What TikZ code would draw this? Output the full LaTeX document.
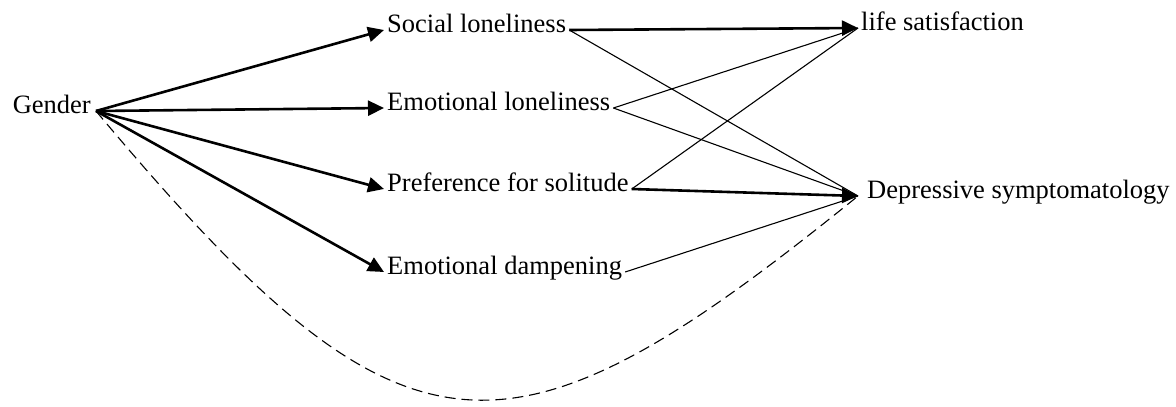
\documentclass[tikz,border=0pt]{standalone}
\usepackage{fontspec}
\setmainfont{Liberation Serif}
\usetikzlibrary{arrows.meta}
\begin{document}
\begin{tikzpicture}[x=1pt,y=-1pt,
  lbl/.style={inner sep=3pt, font=\fontsize{26.5}{30}\selectfont},
  strong/.style={line width=2.6pt, -{Triangle[length=16pt,width=15pt]}},
  weak/.style={line width=1.1pt},
  dashcurve/.style={line width=1.1pt, dash pattern=on 11pt off 6pt}]
\useasboundingbox (0,0) rectangle (1176,407);
\node[lbl, anchor=mid east, inner sep=5pt] (g) at (96,111) {Gender};
\node[lbl, anchor=mid west] (sl) at (384,30) {Social loneliness};
\node[lbl, anchor=mid west] (el) at (384,108) {Emotional loneliness};
\node[lbl, anchor=mid west] (ps) at (384,189) {Preference for solitude};
\node[lbl, anchor=mid west] (ed) at (384,272) {Emotional dampening};
\node[lbl, anchor=mid west] (ls) at (858,28) {life satisfaction};
\node[lbl, anchor=mid west, inner xsep=9pt] (ds) at (858,196) {Depressive symptomatology};
% gender paths
\draw[strong] (g.mid east) -- (sl.mid west);
\draw[strong] (g.mid east) -- (el.mid west);
\draw[strong] (g.mid east) -- (ps.mid west);
\draw[strong] (g.mid east) -- (ed.mid west);
% outcomes
\draw[strong] (sl.mid east) -- (ls.mid west);
\draw[weak] (sl.mid east) -- (ds.mid west);
\draw[weak] (el.mid east) -- (ls.mid west);
\draw[weak] (el.mid east) -- (ds.mid west);
\draw[weak] (ps.mid east) -- (ls.mid west);
\draw[strong] (ps.mid east) -- (ds.mid west);
\draw[weak] (ed.mid east) -- (ds.mid west);
% direct effect
\draw[dashcurve] (g.mid east) .. controls (405,480) and (505,482) .. (ds.mid west);
\end{tikzpicture}
\end{document}
